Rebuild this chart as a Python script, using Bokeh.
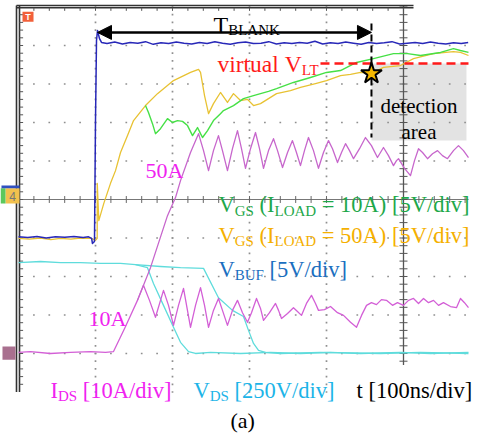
from bokeh.plotting import figure
from bokeh.models import Range1d, ColumnDataSource, Arrow, NormalHead
from bokeh.core.properties import value
from bokeh.embed import file_html
from bokeh.resources import INLINE

# ---------------- data: time in ns (100 ns/div), level in screen divisions ----------------
vbuf_t = [0, 12, 24, 36, 48, 60, 72, 84, 91, 95, 96, 98.7, 100, 101.3, 102.6, 105.2, 107.8,
          115, 125, 135, 145, 155, 165, 175, 185, 195, 205, 215, 225, 235, 245, 255, 265,
          275, 285, 295, 305, 315, 325, 335, 345, 355, 365, 375, 385, 395, 405, 415, 425,
          435, 445, 455, 465, 475, 485, 495, 505, 515, 525, 535, 545, 555, 565, 575, 584]
vbuf_v = [-0.97, -0.99, -0.96, -1.00, -0.97, -0.98, -0.96, -0.99, -0.97, -1.01, -1.14, -1.09, 2.05, 4.13, 4.39, 4.18, 4.08,
          4.05, 4.09, 4.04, 4.08, 4.06, 4.10, 4.03, 4.07, 4.05, 4.09, 4.06, 4.04, 4.08, 4.05, 4.10, 4.06,
          4.03, 4.07, 4.09, 4.05, 4.06, 4.10, 4.04, 4.07, 4.05, 4.08, 4.06, 4.11, 4.04, 4.07, 4.05, 4.09,
          4.06, 4.03, 4.08, 4.05, 4.07, 4.10, 4.04, 4.06, 4.08, 4.05, 4.09, 4.06, 4.04, 4.07, 4.05, 4.08]

vgs50_t = [0, 14, 28.6, 42, 54.5, 68, 80.5, 94.8, 100, 102.2, 102.3, 104.3, 110.8, 119.5, 126, 132.5,
           141.6, 149.4, 164.9, 180.5, 201.3, 223.4, 233.8, 236.4, 241.6, 246.8, 253.2, 262.3, 271.4, 279.2, 288.3, 297.4,
           305.2, 314.3, 324.7, 335.1, 353.2, 366.2, 385.7, 400, 418.2, 431.2, 444.2, 458.4, 474, 496.1, 513, 539,
           564.9, 574, 584.4]
vgs50_v = [-1.01, -1.03, -1.00, -1.04, -1.01, -1.03, -1.00, -1.01, -1.06, -1.01, 0.42, -0.55, -0.10, 0.42, 0.75, 1.22,
           1.66, 2.05, 2.44, 2.75, 3.09, 3.30, 3.38, 3.30, 2.70, 2.23, 2.49, 2.78, 2.52, 2.75, 2.57, 2.60,
           2.44, 2.49, 2.62, 2.75, 2.83, 2.91, 3.01, 3.09, 3.22, 3.25, 3.30, 3.27, 3.43, 3.48, 3.66, 3.79,
           3.84, 3.82, 3.74]

vgs10_t = [164.9, 168.8, 174, 177.9, 184.4, 193.5, 200, 206.5,
           213, 219.5, 226, 232.5, 236.4, 239, 245.5, 253.2,
           262.3, 266.2, 279.2, 292.2, 305.2, 314.3, 324.7, 335.1,
           357.1, 379.2, 400, 418.2, 439, 461, 487, 505.2,
           522.1, 548.1, 564.9, 574, 584.4]
vgs10_v = [2.44, 2.26, 1.97, 1.71, 1.84, 2.10, 2.00, 2.05,
           2.03, 1.92, 1.66, 1.87, 1.71, 1.61, 1.79, 2.05,
           2.23, 2.31, 2.44, 2.62, 2.70, 2.75, 2.81, 2.88,
           3.04, 3.17, 3.30, 3.35, 3.56, 3.66, 3.79, 3.79,
           3.74, 3.82, 3.92, 3.87, 3.82]

ids10_t = [0, 15.6, 41.6, 67.5, 93.5, 113, 123.4, 139.0, 154.5, 162.3,
           170.1, 177.9, 188.3, 194.8, 201.3, 207.8, 214.3, 223.4, 229.9, 236.4,
           241.6, 246.8, 253.2, 259.7, 264.9, 271.4, 277.9, 284.4, 290.9, 297.4,
           302.6, 309.1, 314.3, 318.2, 326, 333.8, 337.7, 341.6, 349.4, 357.1,
           362.3, 367.5, 374, 380.5, 385.7, 389.6, 397.4, 405.2, 414.3, 422.1,
           431.2, 439, 445.5, 452, 458.4, 464.9, 471.4, 477.9, 485.7, 492.2,
           500, 506.5, 513, 519.5, 526, 532.5, 539, 545.5, 551.9, 561,
           568.8, 574, 579.2, 584.4]
ids10_v = [-3.97, -3.95, -4.00, -3.97, -3.95, -3.97, -3.95, -3.30, -2.62, -2.23,
           -2.62, -3.06, -2.36, -2.75, -3.27, -2.75, -2.31, -3.32, -2.75, -2.29,
           -2.75, -3.32, -2.88, -2.57, -2.88, -3.27, -2.88, -2.62, -2.94, -3.19,
           -2.94, -2.57, -2.83, -3.14, -2.94, -2.70, -2.88, -3.09, -2.96, -2.81,
           -2.91, -3.01, -2.70, -2.49, -2.70, -2.88, -2.86, -2.78, -2.94, -3.01,
           -3.19, -3.32, -3.01, -2.75, -2.68, -2.73, -2.60, -2.62, -2.75, -2.68,
           -2.75, -2.62, -2.57, -2.70, -2.57, -2.68, -2.62, -2.75, -2.68, -2.78,
           -2.81, -2.57, -2.68, -2.81]

ids50_t = [154.5, 171.4, 193.5, 203.9, 210.4, 223.4, 233.8, 240.3, 246.8, 253.2,
           259.7, 264.9, 271.4, 277.9, 284.4, 289.6, 294.8, 301.3, 307.8, 313,
           318.2, 324.7, 331.2, 336.4, 342.9, 349.4, 355.8, 361, 366.2, 371.4,
           376.6, 383.1, 389.6, 396.1, 402.6, 407.8, 414.3, 419.5, 424.7, 429.9,
           435.1, 442.9, 450.6, 458.4, 466.2, 470.1, 474, 480.5, 487, 490.9,
           493.5, 501.3, 509.1, 514.3, 519.5, 524.7, 531.2, 537.7, 544.2, 550.6,
           557.1, 564.9, 571.4, 577.9, 584.4]
ids50_v = [-2.62, -1.77, -0.42, 0.05, 0.49, 1.22, 1.71, 1.27, 0.75, 1.27,
           1.66, 1.27, 0.75, 1.32, 1.79, 1.32, 0.81, 1.32, 1.74, 1.32,
           0.81, 1.27, 1.58, 1.27, 0.83, 1.22, 1.53, 1.22, 0.88, 1.27,
           1.61, 1.27, 0.81, 1.22, 1.53, 1.32, 0.96, 1.22, 1.45, 1.27,
           1.06, 1.32, 1.61, 1.40, 1.09, 1.22, 1.35, 1.14, 0.88, 1.01,
           1.06, 0.81, 0.62, 1.01, 1.32, 1.22, 1.06, 1.19, 1.27, 1.14,
           1.06, 1.27, 1.40, 1.27, 1.09]

vds10_t = [0, 28.6, 54.5, 80.5, 106.5, 132.5, 151.9, 167.5,
           175.3, 188.3, 201.3, 210.4, 220.8, 229.9, 249.4, 288.3,
           327.3, 366.2, 405.2, 444.2, 496.1, 535.1, 584.4]
vds10_v = [-1.64, -1.61, -1.64, -1.64, -1.66, -1.66, -1.69, -1.77,
           -2.18, -2.75, -3.32, -3.71, -3.95, -4.00, -3.97, -4.00,
           -3.97, -4.00, -3.97, -4.00, -3.97, -4.00, -3.97]

vds50_t = [151.9, 184.4, 210.4, 240.3, 259.7, 277.9, 292.2, 298.7,
           305.2, 311.7, 320.8, 340.3, 392.2, 470.1, 522.1, 584.4]
vds50_v = [-1.69, -1.74, -1.77, -1.79, -2.55, -2.88, -3.04, -3.40,
           -3.74, -3.92, -3.97, -4.00, -3.97, -4.00, -3.97, -4.00]

t_blank_start = 102.6     # ns, gate turn-on
t_blank_end = 458.4       # ns, end of blanking
v_arrow = 4.34            # div, level of the T_BLANK arrow
v_lt = 3.53               # div, virtual V_LT
v_detect = 3.27           # div, V_GS(50A) at end of blanking
area_right = 581.8        # ns
area_bottom = 1.53        # div

# ---------------- figure ----------------
PX_T = 1 / 0.77    # ns per pixel
PX_V = 1 / 38.5    # div per pixel

p = figure(width=486, height=434, output_backend="svg", toolbar_location=None,
           x_range=Range1d(-23.38, 607.8), y_range=Range1d(-6.104, 5.169),
           x_axis_location=None, y_axis_location=None, min_border=0)
p.grid.visible = False
p.outline_line_color = None
p.background_fill_color = "white"
p.border_fill_color = "white"

# detection area box
p.quad(left=[t_blank_end], right=[area_right], bottom=[area_bottom], top=[v_lt],
       fill_color="#e3e3e3", line_color=None)

# graticule dots
gx, gy = [], []
for lv in [-4, -3, -2, -1, 1, 2, 3, 4]:
    for k in range(1, 30):
        gx.append(20 * k); gy.append(lv)
for lt in [100, 200, 300, 400]:
    for k in range(-25, 26):
        gx.append(lt); gy.append(0.2 * k)
p.scatter(gx, gy, marker="square", size=1.7, fill_color="#8f8f8f", line_color=None)

axc = "#555555"
# center horizontal axis
p.segment(x0=[0], y0=[0], x1=[584.4], y1=[0], line_color="#777777", line_width=1.2)
tx = [20 * k for k in range(1, 30)]
p.segment(x0=tx, y0=[-0.09] * len(tx), x1=tx, y1=[0.09] * len(tx), line_color="#666666", line_width=1)
# center vertical axis
p.segment(x0=[500], y0=[5.04], x1=[500], y1=[-4.3], line_color=axc, line_width=1.3)
ty = [0.2 * k for k in range(-21, 26)]
p.segment(x0=[494.8] * len(ty), y0=ty, x1=[505.2] * len(ty), y1=ty, line_color=axc, line_width=1)
# left border (double) and ticks
p.segment(x0=[-2.6, 1.3], y0=[5.04, 5.04], x1=[-2.6, 1.3], y1=[-5.0, -5.0], line_color="#333333", line_width=1.6)
lty = [0.2 * k for k in range(-24, 25)]
p.segment(x0=[1.3] * len(lty), y0=lty, x1=[6.0] * len(lty), y1=lty, line_color="#555555", line_width=1)
# top border and ticks
p.segment(x0=[-2.6, -2.6], y0=[5.04, 4.98], x1=[513, 513], y1=[5.04, 4.98], line_color="#333333", line_width=1.4)
ttx = [20 * k for k in range(1, 26)]
p.segment(x0=ttx, y0=[4.98] * len(ttx), x1=ttx, y1=[4.90] * len(ttx), line_color="#555555", line_width=1)

# channel markers
p.quad(left=[5.2], right=[19.5], bottom=[4.62], top=[4.88], fill_color="#f2603a", line_color=None)
p.quad(left=[-16.9], right=[1.3], bottom=[-0.104], top=[0.29], fill_color="#f2c14e", line_color=None)
p.quad(left=[-23.4], right=[-16.9], bottom=[-0.104], top=[0.29], fill_color="#5cc85c", line_color=None)
p.quad(left=[-22.1], right=[1.3], bottom=[0.29], top=[0.364], fill_color="#3050c0", line_color=None)
p.quad(left=[-20.8], right=[-3.9], bottom=[-4.16], top=[-3.82], fill_color="#a9708f", line_color=None)

# traces
LJ = "round"
p.line(vds10_t, vds10_v, line_color="#5fdcdc", line_width=1.3, line_join=LJ)
p.line(vds50_t, vds50_v, line_color="#5fdcdc", line_width=1.3, line_join=LJ)
p.line(ids10_t, ids10_v, line_color="#d35fd6", line_width=1.3, line_join=LJ)
p.line(ids50_t, ids50_v, line_color="#c766cc", line_width=1.3, line_join=LJ)
p.line(vgs50_t, vgs50_v, line_color="#e8c233", line_width=1.3, line_join=LJ)
p.line(vgs10_t, vgs10_v, line_color="#46e046", line_width=1.4, line_join=LJ)
p.line(vbuf_t, vbuf_v, line_color="#2828b8", line_width=1.5, line_join=LJ)

# virtual V_LT, blanking end, arrow, star
p.segment(x0=[392.2], y0=[v_lt], x1=[584.4], y1=[v_lt], line_color="#ff1a1a", line_width=2.5, line_dash="9 5")
p.segment(x0=[t_blank_end], y0=[4.57], x1=[t_blank_end], y1=[area_bottom + 0.08],
          line_color="black", line_width=2, line_dash="7 4")
p.add_layout(Arrow(x_start=t_blank_start, y_start=v_arrow, x_end=t_blank_end, y_end=v_arrow,
                   line_width=2.5, line_color="black",
                   start=NormalHead(size=14, fill_color="black", line_color="black"),
                   end=NormalHead(size=14, fill_color="black", line_color="black")))
p.scatter([t_blank_end], [v_detect], marker="star", size=22, fill_color="#f5b800",
          line_color="black", line_width=2)

# ---------------- texts ----------------
NB = "\u00a0"
W = {' ': 250, NB: 250, '(': 333, ')': 333, '[': 333, ']': 333, '/': 278, '=': 564, '0': 500, '1': 500,
     '2': 500, '5': 500, 'A': 722, 'B': 667, 'D': 722, 'G': 722, 'I': 333, 'K': 722, 'L': 611,
     'N': 722, 'O': 722, 'S': 556, 'T': 611, 'U': 722, 'F': 556, 'V': 722, 'a': 444, 'c': 444,
     'd': 500, 'e': 444, 'i': 278, 'l': 278, 'n': 500, 'o': 500, 'r': 333, 's': 389, 't': 278,
     'u': 500, 'v': 500}


def tw(s, size):
    return sum(W.get(c, 500) for c in s) / 1000.0 * size


txt = dict(x=[], y=[], text=[], fsize=[], color=[])


def label(t, v, runs, color, main=22.5, sub=15, drop=6):
    x = t
    for s, is_sub in runs:
        s = s.replace(" ", NB)
        size = sub if is_sub else main
        txt["x"].append(x)
        txt["y"].append(v - (drop * PX_V if is_sub else 0))
        txt["text"].append(s)
        txt["fsize"].append("%gpx" % size)
        txt["color"].append(color)
        x += tw(s, size) * PX_T


GREEN, ORANGE, BLUE, MAG, CYAN, RED = "#1ea84a", "#f5b000", "#1b6fc0", "#f022f0", "#1cb4e8", "#ff1a1a"
label(253.2, 4.545, [("T", 0), ("BLANK", 1)], "black", main=24, drop=5)
label(258.4, 3.532, [("virtual V", 0), ("LT", 1)], RED, main=23.5)
label(259.7, -0.13, [("V", 0), ("GS", 1), (" (I", 0), ("LOAD", 1), (" = 10A) [5V/div]", 0)], GREEN)
label(259.7, -0.935, [("V", 0), ("GS", 1), (" (I", 0), ("LOAD", 1), (" = 50A) [5V/div]", 0)], ORANGE)
label(259.7, -1.818, [("V", 0), ("BUF", 1), (" [5V/div]", 0)], BLUE)
label(164.9, 0.753, [("50A", 0)], MAG, main=22)
label(90.9, -3.09, [("10A", 0)], MAG, main=22)
label(41.6, -4.961, [("I", 0), ("DS", 1), (" [10A/div]", 0)], MAG)
label(227.3, -4.961, [("V", 0), ("DS", 1), (" [250V/div]", 0)], CYAN)
label(439.0, -4.961, [("t [100ns/div]", 0)], "black")
label(275.3, -5.74, [("(a)", 0)], "black", main=22)

src = ColumnDataSource(txt)
p.text(x="x", y="y", text="text", source=src, text_font=value("Liberation Serif"),
       text_font_size="fsize", text_color="color", text_align="left", text_baseline="alphabetic")

p.text(x=[520.1, 520.1], y=[2.416, 1.766], text=["detection", "area"],
       text_font=value("Liberation Serif"), text_font_size="21px", text_color="black",
       text_align="center", text_baseline="alphabetic")
p.text(x=[12.3], y=[4.75], text=["T"], text_font=value("Liberation Sans"), text_font_size="9px",
       text_color="white", text_font_style="bold", text_align="center", text_baseline="middle")
p.text(x=[-7.8], y=[0.09], text=["4"], text_font=value("Liberation Sans"), text_font_size="12px",
       text_color="#777777", text_align="center", text_baseline="middle")

open("out.html", "w").write(file_html(p, INLINE, title="scope"))
